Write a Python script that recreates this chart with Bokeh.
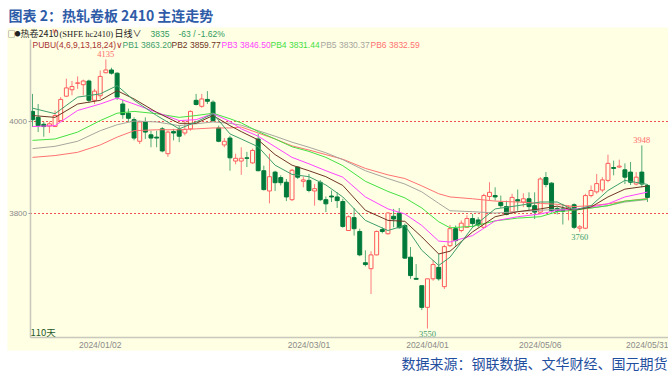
from bokeh.plotting import figure
from bokeh.models import Range1d, FixedTicker, Label, ColumnDataSource, BoxAnnotation
from bokeh.embed import file_html
from bokeh.resources import INLINE

# ---------------- data ----------------
day_index = list(range(-12, 98))  # trading-day index, 0 = 2024/01/02
opens = [4022, 4009, 3994, 3990, 3989, 4002, 4055, 4069, 4083, 4080, 4088, 4046,
         4056, 4106, 4112, 4105, 4038, 4018, 4004, 3957, 4000, 3971, 3966, 3984,
         3930, 3978, 3983, 3975, 3984, 4046, 4033, 4048, 4042, 3986, 3949, 3964,
         3914, 3914, 3921, 3910, 3962, 3893, 3849, 3890, 3878, 3868, 3830, 3901,
         3870, 3872, 3849, 3868, 3830, 3838, 3836, 3826, 3763, 3791, 3761, 3693,
         3680, 3710, 3765, 3756, 3794, 3801, 3774, 3705, 3659, 3643, 3596, 3658,
         3683, 3641, 3730, 3767, 3763, 3770, 3789, 3786, 3770, 3837, 3839, 3824,
         3815, 3803, 3830, 3825, 3832, 3817, 3803, 3878, 3866, 3811, 3810, 3808,
         3819, 3768, 3768, 3839, 3847, 3851, 3872, 3900, 3901, 3895, 3890, 3864,
         3890, 3861]
highs = [4060, 4038, 3999, 4000, 4024, 4053, 4093, 4088, 4098, 4091, 4091, 4071,
         4111, 4135, 4117, 4107, 4047, 4028, 4009, 4002, 4009, 3980, 3980, 3988,
         3980, 3984, 3991, 4002, 4024, 4060, 4060, 4066, 4046, 3991, 3964, 3969,
         3930, 3944, 3934, 3941, 3973, 3904, 3930, 3893, 3883, 3875, 3897, 3902,
         3880, 3886, 3864, 3873, 3837, 3850, 3846, 3832, 3796, 3812, 3767, 3720,
         3718, 3763, 3770, 3803, 3810, 3812, 3778, 3727, 3690, 3643, 3658, 3699,
         3712, 3732, 3775, 3774, 3785, 3796, 3799, 3792, 3843, 3868, 3857, 3839,
         3828, 3843, 3852, 3844, 3846, 3846, 3879, 3890, 3868, 3815, 3821, 3818,
         3822, 3775, 3843, 3861, 3886, 3879, 3928, 3915, 3917, 3909, 3912, 3890,
         3948, 3864]
lows = [3988, 3977, 3967, 3975, 3988, 4001, 4053, 4057, 4071, 4057, 4040, 4038,
        4049, 4105, 4102, 4047, 4006, 3999, 3959, 3951, 3962, 3944, 3944, 3933,
        3923, 3959, 3955, 3970, 3980, 4035, 4030, 4038, 3999, 3955, 3944, 3893,
        3907, 3884, 3901, 3908, 3892, 3850, 3822, 3849, 3861, 3827, 3827, 3875,
        3857, 3846, 3817, 3827, 3803, 3825, 3812, 3769, 3762, 3752, 3707, 3685,
        3625, 3709, 3757, 3754, 3770, 3767, 3701, 3658, 3657, 3590, 3550, 3654,
        3654, 3636, 3727, 3730, 3759, 3769, 3769, 3770, 3769, 3828, 3828, 3812,
        3796, 3799, 3806, 3814, 3806, 3788, 3799, 3857, 3802, 3798, 3776, 3785,
        3766, 3760, 3766, 3835, 3843, 3846, 3868, 3883, 3899, 3864, 3862, 3861,
        3857, 3825]
closes = [4004, 3991, 3989, 3995, 4013, 4048, 4073, 4076, 4084, 4088, 4046, 4066,
          4098, 4112, 4105, 4053, 4015, 4007, 3964, 3999, 3977, 3964, 3964, 3936,
          3977, 3975, 3968, 3983, 4022, 4037, 4049, 4044, 4002, 3957, 3957, 3921,
          3920, 3920, 3920, 3937, 3893, 3852, 3880, 3867, 3867, 3836, 3894, 3879,
          3873, 3850, 3854, 3830, 3821, 3836, 3828, 3772, 3793, 3767, 3710, 3689,
          3710, 3761, 3761, 3801, 3788, 3769, 3703, 3665, 3657, 3596, 3658, 3689,
          3658, 3728, 3767, 3741, 3779, 3789, 3778, 3775, 3839, 3846, 3836, 3817,
          3798, 3835, 3827, 3832, 3815, 3803, 3875, 3863, 3806, 3805, 3805, 3814,
          3770, 3771, 3839, 3850, 3865, 3873, 3909, 3898, 3903, 3879, 3868, 3879,
          3864, 3835]

# PUBU (waterfall) lines, sampled along the chart
pb_index = [-12, -8, -4, 0, 3, 6, 10, 14, 17, 20, 23, 25, 28, 31, 34, 37, 40, 43,
            47, 51, 54, 57, 60, 62, 66, 70, 74, 78, 81, 84, 87, 90, 93, 97]
pb1 = [4029, 4017, 4053, 4060, 4078, 4046, 4013, 3984, 3999, 4017, 3973, 3962, 3945,
       3905, 3885, 3880, 3862, 3836, 3785, 3763, 3774, 3720, 3687, 3705, 3770, 3810,
       3817, 3825, 3825, 3807, 3817, 3850, 3872, 3863.20]
pb2 = [4013, 4009, 4038, 4046, 4067, 4049, 4020, 3996, 3996, 4013, 3991, 3978, 3960,
       3928, 3905, 3893, 3880, 3861, 3807, 3785, 3783, 3749, 3712, 3718, 3760, 3793,
       3804, 3810, 3816, 3807, 3814, 3836, 3853, 3859.77]
pb3 = [3989, 3991, 4024, 4038, 4051, 4038, 4020, 4002, 4004, 4017, 4000, 3984, 3968,
       3945, 3922, 3908, 3893, 3879, 3836, 3810, 3799, 3774, 3740, 3738, 3752, 3784,
       3793, 3799, 3807, 3809, 3814, 3821, 3836, 3846.50]
pb4 = [3959, 3962, 3977, 4002, 4018, 4022, 4017, 4009, 4013, 4018, 4006, 3997, 3978,
       3962, 3945, 3935, 3922, 3904, 3870, 3848, 3834, 3812, 3782, 3769, 3772, 3784,
       3790, 3793, 3804, 3807, 3812, 3817, 3827, 3831.44]
pb5 = [3941, 3946, 3957, 3980, 3993, 4001, 3999, 3991, 3995, 3999, 3996, 3992, 3980,
       3968, 3955, 3944, 3932, 3917, 3893, 3876, 3864, 3847, 3822, 3806, 3804, 3801,
       3804, 3807, 3809, 3810, 3812, 3817, 3825, 3830.37]
pb6 = [3922, 3926, 3933, 3949, 3966, 3980, 3982, 3982, 3984, 3986, 3986, 3988, 3975,
       3962, 3947, 3938, 3928, 3918, 3898, 3884, 3876, 3860, 3843, 3836, 3832, 3827,
       3825, 3822, 3820, 3815, 3817, 3821, 3827, 3832.59]

tick_index = [0, 37, 58, 78, 97]
tick_labels = ["2024/01/02", "2024/03/01", "2024/04/01", "2024/05/06", "2024/05/31"]
y_ticks = [3800, 4000]

high_marks = [(1, 4135), (96, 3948)]
low_marks = [(58, 3550), (85, 3760)]

last_close, change, change_pct = 3835, -63, -1.62

# ---------------- style / layout ----------------
W, H = 668, 380
BG = "#FFFFE3"
UP = "#FF5A5A"
UP_WICK = "#FF7C7C"
DOWN = "#007A3A"
DOWN_WICK = "#55AA78"
PB_COLORS = ["#3E9E6C", "#6E3524", "#FF44FF", "#44E044", "#A6A69E", "#FF7272"]
BLUE = "#2F5CA8"

# the canvas sits at the page's top-left corner
CX0, CY0 = 0, 0
# index scale: candle i sits at page x = 32 + 5.642*(i+12); price: y = 121 + 0.46*(4000-P)
PX_PER_DAY, PX_PER_PT = 5.642, 0.46


def page_x_to_idx(xp):
    return -12 + (xp - 32) / PX_PER_DAY


def page_y_to_price(yp):
    return 4000 - (yp - 121) / PX_PER_PT


x_lo, x_hi = page_x_to_idx(CX0), page_x_to_idx(CX0 + W)
y_hi, y_lo = page_y_to_price(CY0), page_y_to_price(CY0 + H)
axis_x = page_x_to_idx(29.5)
axis_y = page_y_to_price(337)
axis_top = page_y_to_price(39)

p = figure(width=W, height=H, x_range=Range1d(x_lo, x_hi), y_range=Range1d(y_lo, y_hi),
           output_backend="svg", toolbar_location=None, min_border=0)
p.background_fill_color = "white"
p.border_fill_color = "white"
p.outline_line_color = None
p.xgrid.visible = False
p.ygrid.visible = False

# yellow chart panel
p.add_layout(BoxAnnotation(top=page_y_to_price(27), bottom=page_y_to_price(350),
                           left=page_x_to_idx(7), fill_color=BG, fill_alpha=1,
                           line_color=None, level="underlay"))

# axes drawn at fixed positions inside the canvas
p.yaxis.fixed_location = axis_x
p.xaxis.fixed_location = axis_y
p.yaxis.bounds = (axis_y, axis_top)
p.xaxis.bounds = (axis_x, x_hi)
p.yaxis.ticker = FixedTicker(ticks=y_ticks)
for ax in (p.xaxis, p.yaxis):
    ax.axis_line_color = "#C8C8BC"
    ax.axis_line_width = 1.5
    ax.minor_tick_line_color = None
    ax.major_label_text_color = "#8A8A8A"
    ax.major_label_text_font = "Liberation Sans"
p.yaxis.major_tick_out = 2
p.yaxis.major_tick_in = 0
p.yaxis.major_tick_line_color = "#A0A0A0"
p.yaxis.major_label_standoff = 1
p.yaxis.major_label_text_font_size = "8px"
p.xaxis.ticker = FixedTicker(ticks=tick_index)
p.xaxis.major_label_overrides = {i: s for i, s in zip(tick_index, tick_labels)}
p.xaxis.major_tick_out = 0
p.xaxis.major_tick_in = 0
p.xaxis.major_label_standoff = 2
p.xaxis.major_label_text_font_size = "8.5px"

# dashed reference lines at the price ticks
p.segment(x0=[axis_x] * len(y_ticks), y0=y_ticks, x1=[x_hi] * len(y_ticks), y1=y_ticks,
          line_color="#F05050", line_dash="2 2", line_width=1)

# candles
up = [c >= o for o, c in zip(opens, closes)]
src = ColumnDataSource(dict(
    x=day_index, h=highs, l=lows,
    top=[max(o, c) for o, c in zip(opens, closes)],
    bot=[min(o, c) for o, c in zip(opens, closes)],
    wick=[UP_WICK if u else DOWN_WICK for u in up],
    body_line=[UP if u else DOWN for u in up],
    body_fill=[BG if u else DOWN for u in up],
))
p.segment(x0="x", y0="h", x1="x", y1="l", color="wick", line_width=1, source=src)
p.vbar(x="x", top="top", bottom="bot", width=0.7, fill_color="body_fill",
       line_color="body_line", line_width=1, source=src)

# PUBU lines
for vals, col in zip([pb6, pb5, pb4, pb3, pb2, pb1], PB_COLORS[::-1]):
    p.line(pb_index, vals, line_color=col, line_width=1)

# high / low marks
p.text(x=[m[0] for m in high_marks], y=[m[1] for m in high_marks],
       text=[str(m[1]) for m in high_marks], text_color="#FF6A6A",
       text_font_size="8.5px", text_align="center", text_baseline="bottom",
       y_offset=-2, text_font="Liberation Sans")
p.text(x=[m[0] for m in low_marks], y=[m[1] for m in low_marks],
       text=[str(m[1]) for m in low_marks], text_color="#3E9E6C",
       text_font_size="8.5px", text_align="center", text_baseline="top",
       y_offset=2, text_font="Liberation Sans")


def txt(xp, yp, text, color, size="9px", font="Noto Sans CJK SC", align="left",
        style="normal"):
    p.add_layout(Label(x=xp - CX0, y=CY0 + H - yp, x_units="screen", y_units="screen",
                       text=text, text_color=color, text_font_size=size,
                       text_font=font, text_font_style=style,
                       text_baseline="middle", text_align=align))


# title and source
txt(8, 14.5, "图表 2：热轧卷板 2410 主连走势", BLUE, "14px", style="bold")
txt(667, 362, "数据来源：钢联数据、文华财经、国元期货", "#1F4F9E", "14px", align="right")

# header rows
txt(7, 33, "□", "#333333", "8px")
txt(14, 33, "●", "#222222", "6px")
txt(20, 33, "热卷2410", "#222222", "9px")
txt(52, 30, "M", "#E05050", "5px", "Liberation Sans")
txt(59, 33, "(SHFE hc2410)", "#222222", "8.5px", "Liberation Serif")
txt(114, 33, "日线∨", "#222222", "9px")
txt(150, 33, f"{last_close}", "#2E9A5E", "8.5px", "Liberation Sans")
txt(178, 33, f"{change} / {change_pct:.2f}%", "#2E9A5E", "8.5px", "Liberation Sans")

txt(32, 44, "PUBU(4,6,9,13,18,24)∨", "#A83232", "8.5px", "Liberation Sans")
pb_x = [122, 171, 221, 270, 320, 370]
for k, (xp, vals, col) in enumerate(zip(pb_x, [pb1, pb2, pb3, pb4, pb5, pb6], PB_COLORS)):
    txt(xp, 44, f"PB{k + 1} {vals[-1]:.2f}", col, "8.5px", "Liberation Sans")

txt(30, 331, "110天", "#1F5A2A", "9.5px")

open("out.html", "w").write(file_html(p, INLINE))
